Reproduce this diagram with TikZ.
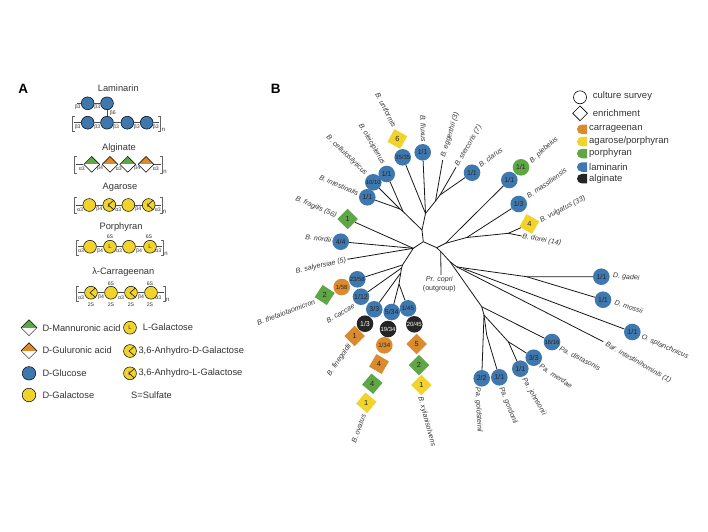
\documentclass[tikz,border=0pt]{standalone}
\usepackage{fontspec}
\setmainfont{Liberation Sans}
\usetikzlibrary{shapes.geometric, shapes.misc}

\definecolor{lamblue}{HTML}{3F78AE}
\definecolor{agayel}{HTML}{F2D32C}
\definecolor{porgrn}{HTML}{5FA645}
\definecolor{carorg}{HTML}{DA8A2F}
\definecolor{algblk}{HTML}{262425}
\definecolor{txtgray}{HTML}{333333}

\newcommand{\fsz}[1]{\fontsize{#1}{#1}\selectfont}
\newcommand{\chainbrk}[4]{%
	\draw[brk] (#1+2.5,#3) -- (#1,#3) -- (#1,#4) -- (#1+2.5,#4);
	\draw[brk] (#2-2.5,#3) -- (#2,#3) -- (#2,#4) -- (#2-2.5,#4);}

\tikzset{
	brk/.style={black!60, line width=.6pt},
	bond/.style={black!70, line width=.7pt},
	tree/.style={black!90, line width=.8pt},
	sugar/.style={circle, draw=black, line width=.5pt, minimum size=12.8pt, inner sep=0pt, font=\fsz{5.8}, text=txtgray},
	glc/.style={sugar, fill=lamblue},
	gal/.style={sugar, fill=agayel},
	anhd/.style={gal, path picture={\draw[line width=.5pt] (path picture bounding box.north east) -- ([xshift=-1pt]path picture bounding box.center) -- (path picture bounding box.south east);}},
	halfdia/.style={diamond, draw=black, line width=.5pt, minimum width=16pt, minimum height=16pt, inner sep=0pt, fill=white, path picture={\fill[#1] (path picture bounding box.west) rectangle (path picture bounding box.north east);}},
	link/.style={font=\fsz{5.2}, text=txtgray, inner sep=0pt},
	title/.style={font=\fsz{9.3}, text=txtgray, inner sep=0pt},
	keytxt/.style={font=\fsz{9.3}, text=txtgray, inner sep=0pt, anchor=west},
	plabel/.style={font=\fsz{13.5}\bfseries, inner sep=0pt},
	surv/.style={circle, fill=#1, minimum size=16.6pt, inner sep=0pt, font=\fsz{7}, text=black!85},
	enr/.style={regular polygon, regular polygon sides=4, fill=#1, minimum size=20.5pt, inner sep=0pt, font=\fsz{7.4}, text=black!85},
	swatch/.style={rounded rectangle, rounded rectangle east arc=none, fill=#1, minimum width=10pt, minimum height=9.5pt, inner sep=0pt},
	taxon/.style={font=\fsz{7.1}\itshape, text=txtgray, inner sep=0pt},
}

\begin{document}
\begin{tikzpicture}[x=1pt, y=-1pt]
	\useasboundingbox (0,0) rectangle (708,531);

	% panel A
	\node[plabel]	(lblA)	at (23.3,89)	{A};
	\node[title]	(tLam)	at (118.3,88.3)	{Laminarin};
	\node[glc]	(lam1)	at (87.7,103.3)	{};
	\node[glc]	(lam2)	at (107,103.3)	{};
	\node[glc]	(lam3)	at (87.7,122.7)	{};
	\node[glc]	(lam4)	at (107,122.7)	{};
	\node[glc]	(lam5)	at (127.3,122.7)	{};
	\node[glc]	(lam6)	at (146.7,122.7)	{};
	\coordinate	(lamU)	at (77,103.3);
	\coordinate	(lamL)	at (74,122.7);
	\coordinate	(lamR)	at (159,122.7);
	\draw[bond]	(lamU) -- (lam1);
	\draw[bond]	(lam1) -- (lam2);
	\draw[bond]	(lam2) -- (lam4);
	\draw[bond]	(lamL) -- (lam3);
	\draw[bond]	(lam3) -- (lam4);
	\draw[bond]	(lam4) -- (lam5);
	\draw[bond]	(lam5) -- (lam6);
	\draw[bond]	(lam6) -- (lamR);
	\chainbrk{72.3}{160.7}{116.7}{131.7}
	\node[link]	(lamN)	at (163.5,130)	{\fsz{6}n};
	\node[link]	(lamA)	at (77.7,107.5)	{β3};
	\node[link]	(lamB)	at (97.3,107.5)	{β3};
	\node[link]	(lamC)	at (112.7,112.7)	{β6};
	\foreach \lx [count=\i] in {77.7,97.3,116,136.7,155.7}
		\node[link] (lamS\i) at (\lx,127.5) {β3};

	\node[title]	(tAlg)	at (119,147.7)	{Alginate};
	\node[halfdia=porgrn]	(alg1)	at (91.7,164.3)	{};
	\node[halfdia=carorg]	(alg2)	at (110,164.3)	{};
	\node[halfdia=porgrn]	(alg3)	at (127.7,164.3)	{};
	\node[halfdia=carorg]	(alg4)	at (146,164.3)	{};
	\coordinate	(algL)	at (76,164.3);
	\coordinate	(algR)	at (160.5,164.3);
	\draw[bond]	(algL) -- (alg1);
	\draw[bond]	(alg4) -- (algR);
	\chainbrk{74.3}{162.3}{156.7}{173.3}
	\node[link]	(algN)	at (165,171.7)	{\fsz{6}n};
	\foreach \lx/\lt [count=\i] in {81.7/α3,100/β4,118.7/α3,137.3/β4,155.7/α3}
		\node[link] (algS\i) at (\lx,168.5) {\lt};

	\node[title]	(tAga)	at (120,187.7)	{Agarose};
	\node[gal]	(aga1)	at (89.3,205)	{};
	\node[anhd]	(aga2)	at (109.3,205)	{L\hspace{4pt}};
	\node[gal]	(aga3)	at (128.3,205)	{};
	\node[anhd]	(aga4)	at (148.7,205)	{L\hspace{4pt}};
	\coordinate	(agaL)	at (75.5,205);
	\coordinate	(agaR)	at (160.5,205);
	\draw[bond]	(agaL) -- (aga1);
	\draw[bond]	(aga1) -- (aga2);
	\draw[bond]	(aga2) -- (aga3);
	\draw[bond]	(aga3) -- (aga4);
	\draw[bond]	(aga4) -- (agaR);
	\chainbrk{74}{162}{197.7}{213.3}
	\node[link]	(agaN)	at (164.5,212)	{\fsz{6}n};
	\foreach \lx/\lt [count=\i] in {80/α3,99.3/β4,118.3/α3,138.3/β4,157.7/α3}
		\node[link] (agaS\i) at (\lx,209.5) {\lt};

	\node[title]	(tPor)	at (121,227.3)	{Porphyran};
	\node[gal]	(por1)	at (90,246.7)	{};
	\node[gal]	(por2)	at (110,246.7)	{L};
	\node[gal]	(por3)	at (129,246.7)	{};
	\node[gal]	(por4)	at (150,246.7)	{L};
	\coordinate	(porL)	at (78,246.7);
	\coordinate	(porR)	at (162,246.7);
	\draw[bond]	(porL) -- (por1);
	\draw[bond]	(por1) -- (por2);
	\draw[bond]	(por2) -- (por3);
	\draw[bond]	(por3) -- (por4);
	\draw[bond]	(por4) -- (porR);
	\chainbrk{76.7}{163.3}{240}{255}
	\node[link]	(porN)	at (166,254)	{\fsz{6}n};
	\node[link]	(porA)	at (110,236.7)	{6S};
	\node[link]	(porB)	at (149,236.7)	{6S};
	\foreach \lx/\lt [count=\i] in {81/α3,100/β4,119/α3,139/β4,158.3/α3}
		\node[link] (porS\i) at (\lx,251) {\lt};

	\node[title]	(tCar)	at (123.3,272)	{λ-Carrageenan};
	\node[anhd]	(car1)	at (91,292.7)	{};
	\node[gal]	(car2)	at (111,292.7)	{};
	\node[anhd]	(car3)	at (131,292.7)	{};
	\node[gal]	(car4)	at (151,292.7)	{};
	\coordinate	(carL)	at (78,292.7);
	\coordinate	(carR)	at (163.5,292.7);
	\draw[bond]	(carL) -- (car1);
	\draw[bond]	(car1) -- (car2);
	\draw[bond]	(car2) -- (car3);
	\draw[bond]	(car3) -- (car4);
	\draw[bond]	(car4) -- (carR);
	\chainbrk{76.7}{165}{286}{301.7}
	\node[link]	(carN)	at (167.7,300)	{\fsz{6}n};
	\node[link]	(carA)	at (111,283.3)	{6S};
	\node[link]	(carB)	at (150,283.3)	{6S};
	\node[link]	(carC)	at (81,297.5)	{α3};
	\node[link]	(carD)	at (101,297.5)	{β4};
	\node[link]	(carE)	at (121,297.5)	{α3};
	\node[link]	(carF)	at (141,297)	{β4};
	\node[link]	(carG)	at (158.3,297.5)	{α3};
	\foreach \lx [count=\i] in {91,111,131,150}
		\node[link] (carS\i) at (\lx,304.3) {2S};

	% key of panel A
	\node[halfdia=porgrn]	(kMan)	at (29,327.7)	{};
	\node[keytxt]		(kManT)	at (42.3,327.7)	{D-Mannuronic acid};
	\node[halfdia=carorg]	(kGul)	at (29,350.7)	{};
	\node[keytxt]		(kGulT)	at (42.3,350)	{D-Guluronic acid};
	\node[glc, minimum size=13.5pt]	(kGlc)	at (29,373.3)	{};
	\node[keytxt]		(kGlcT)	at (42.3,372.7)	{D-Glucose};
	\node[gal, minimum size=13.5pt]	(kGal)	at (29,395)	{};
	\node[keytxt]		(kGalT)	at (42.3,395)	{D-Galactose};
	\node[gal]		(kLg)	at (130,327.7)	{L};
	\node[keytxt]		(kLgT)	at (142.7,327.3)	{L-Galactose};
	\node[anhd]		(kDa)	at (130,351)	{};
	\node[keytxt]		(kDaT)	at (138.3,350.7)	{3,6-Anhydro-D-Galactose};
	\node[anhd]		(kLa)	at (130,373.3)	{L\hspace{4pt}};
	\node[keytxt]		(kLaT)	at (138.3,373)	{3,6-Anhydro-L-Galactose};
	\node[keytxt]		(kSul)	at (131,395)	{S=Sulfate};

	% panel B
	\node[plabel]	(lblB)	at (275.7,89)	{B};

	% key of panel B
	\node[circle, draw=black, line width=.6pt, minimum size=13pt, inner sep=0pt]	(kCul)	at (580,97.3)	{};
	\node[keytxt, font=\fsz{9.5}]	(kCulT)	at (592.7,96)	{culture survey};
	\node[diamond, draw=black, line width=.6pt, minimum width=15pt, minimum height=15pt, inner sep=0pt]	(kEnr)	at (580,113.3)	{};
	\node[keytxt, font=\fsz{9.5}]	(kEnrT)	at (592.7,113)	{enrichment};
	\node[swatch=carorg]	(sCar)	at (582,129.3)	{};
	\node[keytxt, font=\fsz{9.5}]	(sCarT)	at (589,129)	{carrageenan};
	\node[swatch=agayel]	(sAga)	at (582,141.7)	{};
	\node[keytxt, font=\fsz{9.5}]	(sAgaT)	at (589,141.5)	{agarose/porphyran};
	\node[swatch=porgrn]	(sPor)	at (582,153.5)	{};
	\node[keytxt, font=\fsz{9.5}]	(sPorT)	at (589,153.3)	{porphyran};
	\node[swatch=lamblue]	(sLam)	at (582,167)	{};
	\node[keytxt, font=\fsz{9.5}]	(sLamT)	at (589,167)	{laminarin};
	\node[swatch=algblk]	(sAlg)	at (582,178.7)	{};
	\node[keytxt, font=\fsz{9.5}]	(sAlgT)	at (589,178.7)	{alginate};

	% inner points of the tree
	\coordinate	(nCenter)	at (423.3,241.7);
	\coordinate	(nLeft)		at (413.3,248.3);
	\coordinate	(nRight)	at (436.7,247.7);
	\coordinate	(nUp)		at (422,230);
	\coordinate	(nFork)		at (425.5,213.5);
	\coordinate	(nEgg)		at (435.5,201);
	\coordinate	(nCla)		at (440,195);
	\coordinate	(nOle)		at (403,211.5);
	\coordinate	(nInt)		at (400,209);
	\coordinate	(nBac)		at (402.5,265);
	\coordinate	(nCac)		at (401.5,268);
	\coordinate	(nTri)		at (400.7,273);
	\coordinate	(nBot)		at (399,284);
	\coordinate	(nVul)		at (445.5,243.3);
	\coordinate	(nMas)		at (466.7,237.5);
	\coordinate	(nDor)		at (508.3,233.3);
	\coordinate	(nPre)		at (440.7,251.5);
	\coordinate	(nPar)		at (450,261.7);
	\coordinate	(nDys)		at (456.5,266.7);
	\coordinate	(nBarn)		at (460,267.4);
	\coordinate	(nOdo)		at (463,268.5);
	\coordinate	(nGad)		at (526.7,276.7);
	\coordinate	(nDis)		at (481.7,306.7);
	\coordinate	(nPa)		at (484,315);
	\coordinate	(nGor)		at (486.7,335);
	\coordinate	(nJoh)		at (508.3,341.7);

	% free ends
	\coordinate	(eEgg)		at (442.7,160);
	\coordinate	(eSte)		at (456,167.3);
	\coordinate	(eSal)		at (347.3,259.3);
	\coordinate	(eDor)		at (521.7,236);
	\coordinate	(eBar)		at (603.3,341.7);
	\coordinate	(ePre)		at (441,275);

	% survey circles and enrichment squares
	\node[enr=agayel, shape border rotate=-29]	(dUni)	at (397.3,139)	{6};
	\node[surv=lamblue]	(cUni)	at (402.7,157.3)	{\fsz{6}35/35};
	\node[surv=lamblue]	(cFlu)	at (422.7,152.3)	{1/1};
	\node[surv=lamblue]	(cOle)	at (386.7,174)	{1/1};
	\node[surv=lamblue]	(cCel)	at (373.3,182.3)	{\fsz{5.9}10/10};
	\node[surv=lamblue]	(cInt)	at (367.3,197.3)	{1/1};
	\node[enr=porgrn, shape border rotate=45]	(dFra)	at (347.7,219)	{1};
	\node[surv=lamblue]	(cNor)	at (340.7,241.7)	{4/4};
	\node[surv=lamblue]	(cCla)	at (472,172.7)	{1/1};
	\node[surv=porgrn]	(cPle)	at (521,167.3)	{1/1};
	\node[surv=lamblue]	(cMas)	at (509.3,180)	{1/1};
	\node[surv=lamblue]	(cMsl)	at (518.7,204)	{1/3};
	\node[enr=agayel, shape border rotate=-30]	(dVul)	at (529.3,224)	{4};
	\node[enr=porgrn, shape border rotate=-33]	(dThe)	at (324.7,295)	{2};
	\node[surv=carorg]	(cThe)	at (341.7,287)	{\fsz{6}1/58};
	\node[surv=lamblue]	(cThb)	at (357.3,279.3)	{\fsz{6}23/58};
	\node[surv=lamblue]	(cCac)	at (361,296.7)	{1/12};
	\node[surv=lamblue]	(cFin)	at (374.3,309.3)	{3/3};
	\node[surv=algblk, text=white]	(kFin)	at (365,323.7)	{1/3};
	\node[enr=carorg, shape border rotate=45]	(dFin)	at (354.7,336)	{1};
	\node[surv=lamblue]	(cOva)	at (391.7,312)	{5/34};
	\node[surv=algblk, text=white]	(kOva)	at (388,329)	{\fsz{5.9}19/34};
	\node[surv=carorg]	(oOva)	at (384.3,345.3)	{\fsz{6.2}1/34};
	\node[enr=carorg, shape border rotate=-30]	(dOvc)	at (379,364)	{4};
	\node[enr=porgrn, shape border rotate=-40]	(dOvp)	at (372.3,383.7)	{4};
	\node[enr=agayel, shape border rotate=-40]	(dOva)	at (366.3,402.7)	{1};
	\node[surv=lamblue]	(cXyl)	at (408,308.3)	{\fsz{6.3}1/45};
	\node[surv=algblk, text=white]	(kXyl)	at (414.3,324.3)	{\fsz{6}20/45};
	\node[enr=carorg, shape border rotate=45]	(dXyc)	at (416.7,344)	{5};
	\node[enr=porgrn, shape border rotate=45]	(dXyp)	at (419,365)	{2};
	\node[enr=agayel, shape border rotate=45]	(dXya)	at (421.3,385)	{1};
	\node[surv=lamblue]	(cGad)	at (601.3,276.7)	{1/1};
	\node[surv=lamblue]	(cMos)	at (603,299.7)	{1/1};
	\node[surv=lamblue]	(cSpl)	at (632.3,332)	{1/1};
	\node[surv=lamblue]	(cDis)	at (552,342)	{\fsz{6}16/16};
	\node[surv=lamblue]	(cMer)	at (533.7,357.7)	{3/3};
	\node[surv=lamblue]	(cJoh)	at (520.3,368.7)	{1/1};
	\node[surv=lamblue]	(cGor)	at (499.3,377.3)	{1/1};
	\node[surv=lamblue]	(cGol)	at (481.7,378.3)	{2/2};

	% branches
	\draw[tree]	(nLeft) -- (nCenter) -- (nRight);
	\draw[tree]	(nCenter) -- (nUp) -- (nFork) -- (cUni);
	\draw[tree]	(nFork) -- (cFlu);
	\draw[tree]	(nFork) -- (nEgg) -- (nCla) -- (cCla);
	\draw[tree]	(nEgg) -- (eEgg);
	\draw[tree]	(nCla) -- (eSte);
	\draw[tree]	(nUp) -- (nOle) -- (cOle);
	\draw[tree]	(nOle) -- (nInt) -- (cCel);
	\draw[tree]	(nInt) -- (cInt);
	\draw[tree]	(nLeft) -- (dFra);
	\draw[tree]	(nLeft) -- (cNor);
	\draw[tree]	(nLeft) -- (eSal);
	\draw[tree]	(nLeft) -- (nBac) -- (nCac) -- (nTri) -- (nBot) -- (cOva);
	\draw[tree]	(nBac) -- (cThb);
	\draw[tree]	(nCac) -- (cCac);
	\draw[tree]	(nTri) -- (cFin);
	\draw[tree]	(nBot) -- (cXyl);
	\draw[tree]	(nRight) -- (nVul) -- (cMas);
	\draw[tree]	(nVul) -- (nMas) -- (cMsl);
	\draw[tree]	(nMas) -- (nDor) -- (dVul);
	\draw[tree]	(nDor) -- (eDor);
	\draw[tree]	(nRight) -- (nPre) -- (ePre);
	\draw[tree]	(nPre) -- (nPar) -- (nDys) -- (nBarn) -- (nGad) -- (cGad);
	\draw[tree]	(nGad) -- (cMos);
	\draw[tree]	(nOdo) -- (cSpl);
	\draw[tree]	(nDys) -- (eBar);
	\draw[tree]	(nPar) -- (nDis) -- (cDis);
	\draw[tree]	(nDis) -- (nPa) -- (cGol);
	\draw[tree]	(nPa) -- (nGor) -- (cGor);
	\draw[tree]	(nPa) -- (nJoh) -- (cJoh);
	\draw[tree]	(nJoh) -- (cMer);

	% species
	\node[taxon, rotate=-63]	(tUni)	at (386,110)	{B. uniformis};
	\node[taxon, rotate=-88]	(tFlu)	at (423.3,128.7)	{B. fluxus};
	\node[taxon, rotate=73]		(tEgg)	at (450,135)	{B. eggerthii (3)};
	\node[taxon, rotate=60]		(tSte)	at (468.3,146)	{B. stercoris (7)};
	\node[taxon, rotate=37]		(tCla)	at (490.7,157.3)	{B. clarus};
	\node[taxon, rotate=42]		(tPle)	at (544,150)	{B. plebeius};
	\node[taxon, rotate=35]		(tMas)	at (546.7,183.3)	{B. massiliensis};
	\node[taxon, rotate=27]		(tVul)	at (562.7,209.3)	{B. vulgatus (33)};
	\node[taxon, rotate=-10]	(tDor)	at (541.7,240)	{B. dorei (14)};
	\node[taxon, rotate=-60]	(tOle)	at (371.7,144)	{B. oleiciplenus};
	\node[taxon, rotate=-44]	(tCel)	at (346.7,155.3)	{B. cellulosilyticus};
	\node[taxon, rotate=-23]	(tInt)	at (339,185.3)	{B. intestinalis};
	\node[taxon, rotate=-23]	(tFra)	at (316,207.3)	{B. fragilis (56)};
	\node[taxon, rotate=-8]		(tNor)	at (318.3,238.3)	{B. nordii};
	\node[taxon, rotate=13]		(tSal)	at (321,266)	{B. salyersiae (5)};
	\node[taxon, rotate=20, anchor=east]	(tThe)	at (315,301.7)	{B. thetaiotaomicron};
	\node[taxon, rotate=30]		(tCac)	at (340.5,313.3)	{B. caccae};
	\node[taxon, rotate=55]		(tFin)	at (339.3,360)	{B. finegoldii};
	\node[taxon, rotate=70]		(tOva)	at (358.7,428.7)	{B. ovatus};
	\node[taxon, rotate=-75]	(tXyl)	at (426.7,421.7)	{B. xylanisolvens};
	\node[taxon, rotate=-5]		(tGad)	at (626.3,277.3)	{D. gadei};
	\node[taxon, rotate=-18]	(tMos)	at (628.7,306.7)	{D. mossii};
	\node[taxon, rotate=-24, anchor=west]	(tSpl)	at (641.7,336.7)	{O. splanchnicus};
	\node[taxon, rotate=-30]	(tBar)	at (638.3,362.7)	{Bar. intestinihominis (1)};
	\node[taxon, rotate=-27]	(tDis)	at (580,358.3)	{Pa. distasonis};
	\node[taxon, rotate=-33]	(tMer)	at (556,376)	{Pa. merdae};
	\node[taxon, rotate=-60]	(tJoh)	at (534,396.7)	{Pa. johnsonii};
	\node[taxon, rotate=-68]	(tGor)	at (508.3,405.7)	{Pa. gordonii};
	\node[taxon, rotate=-87]	(tGol)	at (478.5,410)	{Pa. goldsteinii};
	\node[taxon]			(tPre)	at (439.3,280)	{Pr. copri};
	\node[taxon, font=\fsz{7.1}]	(tOut)	at (439.3,288.3)	{(outgroup)};
\end{tikzpicture}
\end{document}
